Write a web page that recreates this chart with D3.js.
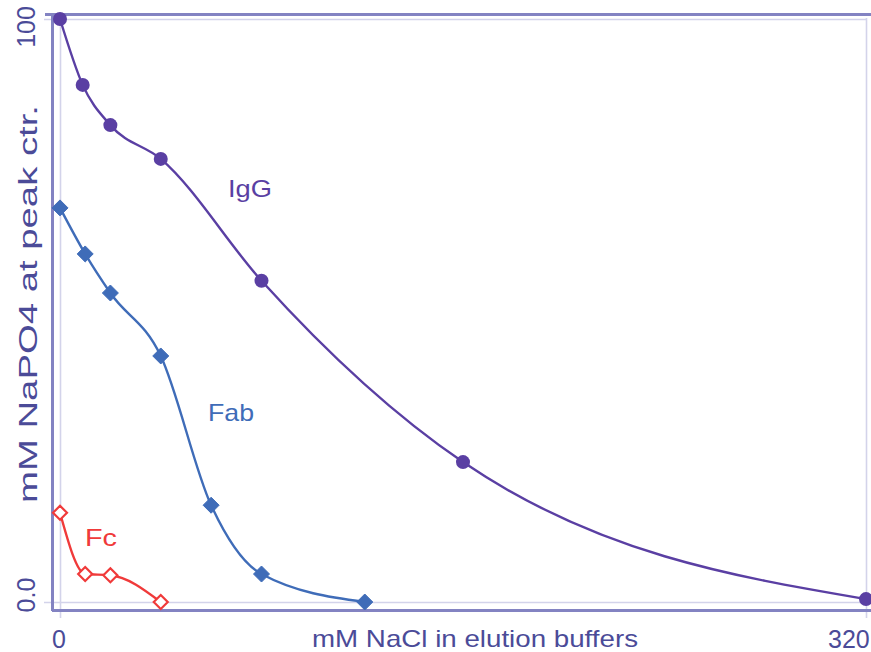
<!DOCTYPE html>
<html>
<head>
<meta charset="utf-8">
<script src="https://cdn.jsdelivr.net/npm/d3@7"></script>
<style>
  html, body { margin: 0; padding: 0; background: #ffffff; }
  svg { display: block; }
  text { font-family: "Liberation Sans", Arial, sans-serif; }
</style>
</head>
<body>
<div id="chart"></div>
<script>
// Elution position (mM NaPO4 at peak centre) versus NaCl in the elution buffer
const iggNaCl = [0, 9, 20, 40, 80, 160, 320];
const iggPO4  = [100, 88.7, 81.8, 76.0, 55.1, 24.0, 0.5];

const fabNaCl = [0, 10, 20, 40, 60, 80, 121];
const fabPO4  = [67.6, 59.7, 53.0, 42.2, 16.6, 4.8, 0];

const fcNaCl = [0, 10, 20, 40];
const fcPO4  = [15.3, 4.8, 4.6, 0];

const xTicks = [0, 320];
const yTicks = [0, 100];
const yTickLabels = ["0.0", "100"];

const W = 871, H = 652;
const svg = d3.select("#chart").append("svg").attr("width", W).attr("height", H);

const x = d3.scaleLinear().domain([0, 320]).range([60, 866]);
const y = d3.scaleLinear().domain([0, 100]).range([602, 19]);

const lightCol = "#d3d3ea";
const axisCol = "#8383c2";
const textCol = "#4b4b98";

// light reference lines at the extreme tick values (drawn by the axes)
const yAxis = d3.axisLeft(y).tickValues(yTicks).tickSize(-(866 - 44)).tickFormat("");
svg.append("g").attr("transform", "translate(44,0)").call(yAxis)
  .call(g => g.select(".domain").remove())
  .call(g => g.selectAll(".tick line").attr("stroke", lightCol).attr("stroke-width", 1.6));

const xAxis = d3.axisBottom(x).tickValues(xTicks).tickSize(-(618 - 18)).tickFormat("");
svg.append("g").attr("transform", "translate(0,618)").call(xAxis)
  .call(g => g.select(".domain").remove())
  .call(g => g.selectAll(".tick line").attr("stroke", lightCol).attr("stroke-width", 1.6));

// frame: left, top and bottom rules
svg.append("path")
  .attr("d", "M45,14.5H871 M52.5,14V611 M52,610.5H871")
  .attr("fill", "none").attr("stroke", axisCol).attr("stroke-width", 3);

// tick labels
svg.selectAll(".ylab").data(yTicks).join("text")
  .attr("class", "ylab")
  .attr("transform", (d) => `translate(35,${d === 100 ? y(d) + 8 : y(d) - 7}) rotate(-90)`)
  .attr("text-anchor", "middle")
  .attr("font-size", 25).attr("fill", textCol)
  .text((d, i) => yTickLabels[i]);

svg.selectAll(".xlab").data(xTicks).join("text")
  .attr("class", "xlab")
  .attr("x", d => d === 0 ? x(d) - 1 : x(d) - 38)
  .attr("y", 648)
  .attr("text-anchor", d => d === 0 ? "middle" : "start")
  .attr("font-size", 25).attr("fill", textCol)
  .text(d => d);

// axis titles
svg.append("text")
  .attr("x", 312).attr("y", 647)
  .attr("font-size", 24).attr("fill", textCol)
  .attr("textLength", 326).attr("lengthAdjust", "spacingAndGlyphs")
  .text("mM NaCl in elution buffers");

svg.append("text")
  .attr("transform", "translate(37,503) rotate(-90)")
  .attr("font-size", 25).attr("fill", textCol)
  .attr("textLength", 398).attr("lengthAdjust", "spacingAndGlyphs")
  .text("mM NaPO4 at peak ctr.");

const series = [
  { name: "IgG", xs: iggNaCl, ys: iggPO4, color: "#5a3fa3", marker: "circle",
    label: { x: 228, y: 197, len: 44 } },
  { name: "Fab", xs: fabNaCl, ys: fabPO4, color: "#3f6cb8", marker: "diamond",
    label: { x: 208, y: 421, len: 46 } },
  { name: "Fc", xs: fcNaCl, ys: fcPO4, color: "#f03a3a", marker: "open",
    label: { x: 85, y: 546, len: 32 } }
];

const line = d3.line().x(d => x(d[0])).y(d => y(d[1])).curve(d3.curveMonotoneX);

series.forEach(s => {
  const pts = s.xs.map((v, i) => [v, s.ys[i]]);
  const g = svg.append("g");
  g.append("path").attr("d", line(pts))
    .attr("fill", "none").attr("stroke", s.color).attr("stroke-width", 2.4);

  if (s.marker === "circle") {
    g.selectAll("circle").data(pts).join("circle")
      .attr("cx", d => x(d[0])).attr("cy", d => y(d[1])).attr("r", 7)
      .attr("fill", s.color);
  } else {
    const r = s.marker === "open" ? 7 : 8;
    g.selectAll("path.mk").data(pts).join("path").attr("class", "mk")
      .attr("d", d => `M${x(d[0])},${y(d[1]) - r}L${x(d[0]) + r},${y(d[1])}L${x(d[0])},${y(d[1]) + r}L${x(d[0]) - r},${y(d[1])}Z`)
      .attr("fill", s.marker === "open" ? "#ffffff" : s.color)
      .attr("stroke", s.color).attr("stroke-width", s.marker === "open" ? 2.2 : 1);
  }

  svg.append("text")
    .attr("x", s.label.x).attr("y", s.label.y)
    .attr("font-size", 24).attr("fill", s.color)
    .attr("textLength", s.label.len).attr("lengthAdjust", "spacingAndGlyphs")
    .text(s.name);
});
</script>
</body>
</html>
